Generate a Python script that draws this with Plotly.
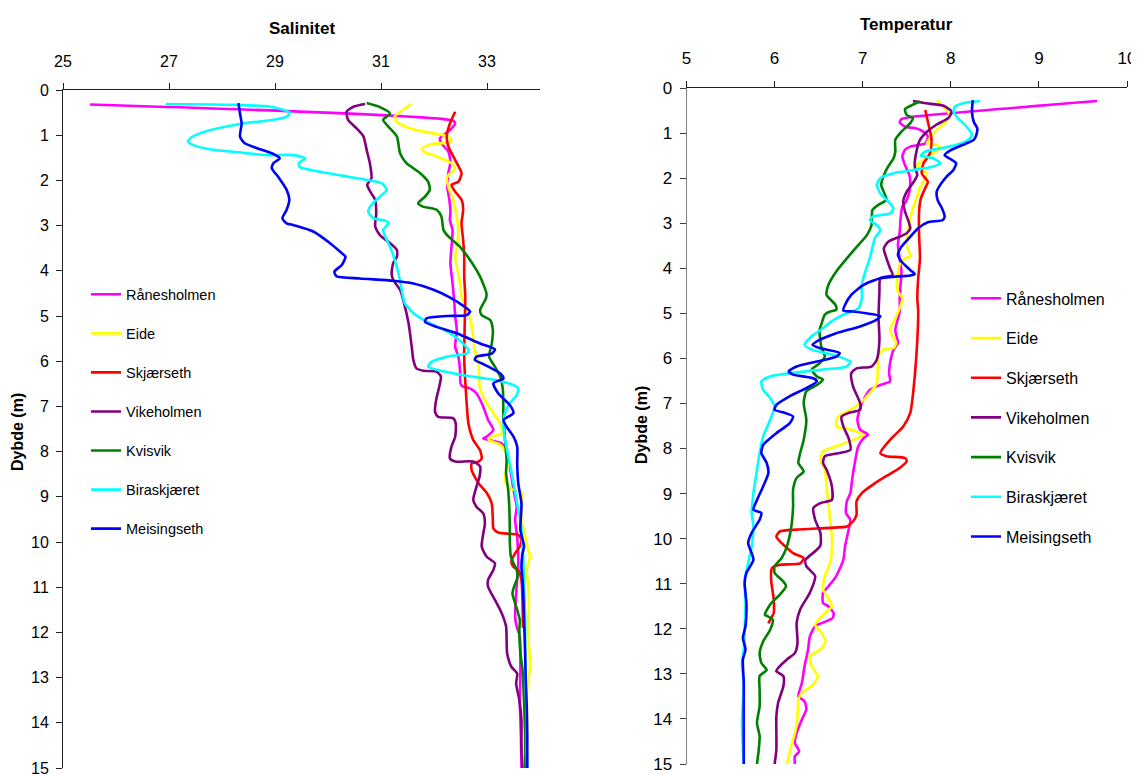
import plotly.graph_objects as go

names = ["Rånesholmen", "Eide", "Skjærseth", "Vikeholmen", "Kvisvik", "Biraskjæret", "Meisingseth"]
colors = ["#FF00FF", "#FFFF00", "#FF0000", "#800080", "#008000", "#00FFFF", "#0000FF"]

# ---------------- Salinitet (left panel) ----------------
sal_ranes_s = [25.51, 32.36, 32.40, 32.30, 32.11, 32.14, 32.27, 32.31, 32.27, 32.25, 32.29, 32.31, 32.30, 32.35, 32.33, 32.31, 32.35, 32.38, 32.40, 32.43, 32.40, 32.46, 32.49, 32.50, 32.54, 32.68, 32.80, 32.93, 33.02, 33.12, 32.99, 32.93, 33.18, 33.28, 33.37, 33.43, 33.50, 33.56, 33.53, 33.57, 33.59, 33.55, 33.53, 33.56, 33.62, 33.63, 33.62, 33.64, 33.65]
sal_ranes_d = [0.32, 0.68, 0.74, 0.885, 1.07, 1.18, 1.36, 1.59, 1.84, 2.14, 2.43, 2.69, 2.88, 3.10, 3.47, 3.83, 4.28, 4.65, 5.01, 5.31, 5.68, 5.90, 6.19, 6.49, 6.56, 6.60, 6.71, 7.01, 7.30, 7.52, 7.67, 7.71, 7.78, 7.82, 8.04, 8.33, 8.85, 9.22, 9.51, 9.90, 10.50, 11.14, 11.65, 11.87, 12.09, 12.83, 13.57, 14.31, 15.0]

sal_eide_s = [31.58, 31.26, 31.29, 31.55, 31.99, 32.27, 32.33, 32.24, 31.99, 31.77, 31.80, 32.05, 32.33, 32.40, 32.30, 32.24, 32.27, 32.36, 32.43, 32.46, 32.43, 32.40, 32.43, 32.49, 32.52, 32.68, 32.73, 32.77, 32.84, 32.86, 32.96, 33.12, 33.25, 33.28, 33.09, 33.03, 33.25, 33.37, 33.40, 33.35, 33.34, 33.46, 33.65, 33.67, 33.65, 33.68, 33.78, 33.81, 33.75, 33.78, 33.79, 33.78, 33.80, 33.81, 33.78, 33.75, 33.76, 33.75, 33.75]
sal_eide_d = [0.31, 0.59, 0.70, 0.85, 0.96, 1.03, 1.11, 1.17, 1.19, 1.29, 1.36, 1.47, 1.62, 1.73, 1.84, 1.95, 2.14, 2.43, 2.80, 3.17, 3.47, 3.69, 3.91, 4.28, 4.57, 5.02, 5.38, 5.75, 6.05, 6.56, 6.86, 7.15, 7.37, 7.60, 7.67, 7.74, 7.85, 8.04, 8.26, 8.48, 8.67, 8.83, 8.89, 9.14, 9.51, 9.66, 10.18, 10.32, 10.62, 10.99, 11.43, 11.95, 12.46, 12.76, 13.05, 13.35, 13.94, 14.53, 15.0]

sal_skj_s = [32.40, 32.30, 32.24, 32.27, 32.40, 32.52, 32.46, 32.33, 32.40, 32.52, 32.55, 32.52, 32.55, 32.57, 32.57, 32.59, 32.58, 32.57, 32.60, 32.65, 32.74, 32.87, 32.90, 32.84, 32.71, 32.71, 32.84, 33.00, 33.09, 33.11, 33.12, 33.21, 33.43, 33.59, 33.65, 33.62, 33.53, 33.46, 33.50, 33.59, 33.65, 33.67, 33.68]
sal_skj_d = [0.48, 0.74, 1.03, 1.25, 1.55, 1.84, 2.03, 2.10, 2.25, 2.43, 2.65, 2.95, 3.32, 3.69, 4.13, 4.57, 5.16, 5.90, 6.64, 7.38, 7.74, 7.97, 8.15, 8.22, 8.26, 8.41, 8.70, 8.92, 9.15, 9.51, 9.70, 9.79, 9.82, 9.84, 9.95, 10.10, 10.25, 10.43, 10.55, 10.62, 10.84, 11.30, 11.90]

sal_vik_s = [30.70, 30.48, 30.35, 30.38, 30.54, 30.67, 30.73, 30.79, 30.82, 30.74, 30.82, 30.89, 30.91, 30.89, 30.98, 31.17, 31.30, 31.30, 31.23, 31.20, 31.23, 31.36, 31.42, 31.52, 31.58, 31.61, 31.67, 31.80, 32.05, 32.13, 32.10, 32.04, 32.02, 32.08, 32.36, 32.41, 32.40, 32.33, 32.30, 32.40, 32.74, 32.87, 32.86, 32.80, 32.74, 32.80, 32.93, 32.96, 32.93, 32.90, 32.99, 33.15, 33.12, 33.02, 33.02, 33.15, 33.28, 33.36, 33.38, 33.46, 33.57, 33.55, 33.61, 33.65, 33.65, 33.67]
sal_vik_d = [0.31, 0.37, 0.48, 0.66, 0.85, 1.03, 1.33, 1.62, 1.95, 2.10, 2.29, 2.43, 2.73, 3.02, 3.21, 3.39, 3.54, 3.69, 3.83, 4.06, 4.20, 4.42, 4.65, 5.16, 5.68, 5.97, 6.16, 6.21, 6.23, 6.34, 6.56, 6.86, 7.12, 7.23, 7.26, 7.38, 7.67, 7.89, 8.15, 8.22, 8.22, 8.33, 8.55, 8.78, 9.07, 9.22, 9.37, 9.60, 9.81, 10.10, 10.32, 10.47, 10.62, 10.84, 10.99, 11.28, 11.58, 11.87, 12.46, 12.76, 12.91, 13.13, 13.50, 13.94, 14.53, 15.0]

sal_kvi_s = [30.73, 30.98, 31.17, 31.04, 31.14, 31.30, 31.36, 31.48, 31.74, 31.89, 31.92, 31.83, 31.70, 31.79, 32.05, 32.14, 32.18, 32.27, 32.49, 32.68, 32.87, 32.99, 32.98, 32.87, 32.90, 33.06, 33.11, 33.09, 33.04, 33.15, 33.25, 33.30, 33.31, 33.34, 33.37, 33.36, 33.40, 33.42, 33.43, 33.43, 33.45, 33.50, 33.56, 33.57, 33.51, 33.48, 33.55, 33.62, 33.61, 33.63, 33.67, 33.70, 33.72, 33.72]
sal_kvi_d = [0.29, 0.38, 0.52, 0.66, 0.81, 1.03, 1.40, 1.62, 1.84, 2.03, 2.21, 2.36, 2.51, 2.58, 2.65, 2.80, 3.10, 3.24, 3.47, 3.76, 4.13, 4.50, 4.61, 4.87, 4.98, 5.09, 5.31, 5.61, 5.90, 6.12, 6.34, 6.64, 7.23, 7.74, 8.19, 8.48, 8.85, 9.22, 9.73, 9.96, 10.32, 10.47, 10.62, 10.80, 10.99, 11.14, 11.43, 11.73, 11.95, 12.46, 12.83, 13.57, 14.31, 15.0]

sal_bir_s = [26.94, 28.28, 28.91, 29.16, 29.28, 29.22, 28.97, 28.40, 27.84, 27.58, 27.40, 27.36, 27.46, 27.77, 28.40, 28.84, 29.35, 29.57, 29.45, 29.47, 29.72, 30.29, 30.73, 31.01, 31.11, 30.98, 30.82, 30.76, 30.86, 31.08, 31.14, 31.04, 31.08, 31.17, 31.26, 31.33, 31.39, 31.43, 31.45, 31.61, 31.92, 32.30, 32.55, 32.65, 32.62, 32.24, 31.96, 31.89, 32.05, 32.55, 33.18, 33.50, 33.59, 33.56, 33.43, 33.34, 33.31, 33.34, 33.43, 33.50, 33.57, 33.62, 33.65, 33.68, 33.70, 33.72, 33.72, 33.73, 33.75, 33.75, 33.76]
sal_bir_d = [0.31, 0.33, 0.37, 0.44, 0.50, 0.59, 0.66, 0.74, 0.87, 0.96, 1.07, 1.14, 1.22, 1.31, 1.39, 1.44, 1.44, 1.51, 1.62, 1.71, 1.78, 1.90, 1.99, 2.06, 2.21, 2.36, 2.54, 2.69, 2.84, 2.89, 2.95, 3.10, 3.24, 3.47, 3.76, 4.06, 4.42, 4.65, 4.72, 4.94, 5.16, 5.38, 5.61, 5.75, 5.83, 5.90, 6.01, 6.12, 6.19, 6.31, 6.42, 6.53, 6.60, 6.75, 6.93, 7.15, 7.38, 7.74, 8.26, 8.70, 9.15, 9.44, 9.73, 10.25, 10.99, 11.73, 12.46, 13.20, 13.94, 14.68, 15.0]

sal_mei_s = [28.31, 28.34, 28.37, 28.34, 28.43, 28.72, 28.94, 29.09, 28.97, 28.94, 29.06, 29.22, 29.27, 29.22, 29.14, 29.22, 29.35, 29.72, 30.04, 30.23, 30.33, 30.26, 30.12, 30.16, 30.60, 31.23, 31.61, 31.99, 32.27, 32.43, 32.68, 32.62, 32.24, 31.86, 31.83, 32.05, 32.43, 32.87, 33.15, 33.09, 32.80, 32.77, 32.96, 33.25, 33.31, 33.12, 33.21, 33.43, 33.50, 33.31, 33.37, 33.50, 33.57, 33.57, 33.59, 33.65, 33.63, 33.70, 33.67, 33.65, 33.68, 33.70, 33.72, 33.73, 33.75, 33.76, 33.76]
sal_mei_d = [0.29, 0.52, 0.74, 1.03, 1.18, 1.31, 1.40, 1.51, 1.62, 1.73, 1.92, 2.21, 2.43, 2.65, 2.84, 2.95, 2.99, 3.13, 3.39, 3.58, 3.69, 3.87, 4.02, 4.12, 4.17, 4.22, 4.28, 4.42, 4.57, 4.68, 4.90, 4.98, 5.00, 5.05, 5.13, 5.24, 5.38, 5.61, 5.74, 5.83, 5.90, 5.97, 6.08, 6.27, 6.38, 6.49, 6.71, 6.97, 7.15, 7.30, 7.45, 7.67, 7.89, 8.26, 8.70, 9.15, 9.73, 10.10, 10.25, 10.55, 10.99, 11.73, 12.46, 13.05, 13.64, 14.31, 15.0]

# ---------------- Temperatur (right panel) ----------------
tmp_ranes_t = [9.66, 7.57, 7.44, 7.42, 7.48, 7.59, 7.69, 7.74, 7.71, 7.65, 7.54, 7.48, 7.45, 7.48, 7.53, 7.54, 7.53, 7.49, 7.45, 7.43, 7.42, 7.40, 7.42, 7.44, 7.43, 7.42, 7.42, 7.37, 7.40, 7.35, 7.31, 7.30, 7.31, 7.20, 7.08, 6.99, 6.94, 6.97, 7.06, 7.01, 6.95, 6.91, 6.88, 6.86, 6.82, 6.81, 6.86, 6.84, 6.80, 6.78, 6.70, 6.61, 6.55, 6.55, 6.61, 6.67, 6.66, 6.59, 6.46, 6.40, 6.38, 6.34, 6.31, 6.27, 6.34, 6.36, 6.31, 6.25, 6.23, 6.28, 6.23, 6.23]
tmp_ranes_d = [0.29, 0.64, 0.69, 0.76, 0.86, 0.89, 0.97, 1.08, 1.23, 1.26, 1.30, 1.37, 1.52, 1.71, 1.93, 2.08, 2.30, 2.52, 2.63, 2.89, 3.19, 3.48, 3.78, 4.07, 4.37, 4.66, 4.96, 5.37, 5.66, 5.81, 6.11, 6.33, 6.51, 6.59, 6.70, 6.99, 7.36, 7.58, 7.69, 7.77, 7.95, 8.32, 8.69, 8.99, 9.17, 9.43, 9.58, 9.80, 10.17, 10.47, 10.83, 11.06, 11.20, 11.43, 11.50, 11.65, 11.76, 11.83, 11.94, 12.17, 12.46, 12.83, 13.20, 13.50, 13.61, 13.79, 14.01, 14.31, 14.53, 14.72, 14.83, 15.0]

tmp_eide_t = [7.84, 7.91, 7.99, 7.93, 7.84, 7.76, 7.73, 7.84, 7.88, 7.80, 7.74, 7.67, 7.61, 7.69, 7.73, 7.69, 7.65, 7.61, 7.57, 7.54, 7.51, 7.50, 7.54, 7.48, 7.42, 7.39, 7.40, 7.45, 7.42, 7.37, 7.31, 7.38, 7.35, 7.23, 7.18, 7.17, 7.16, 7.08, 6.97, 6.86, 6.72, 6.70, 6.86, 7.01, 6.89, 6.70, 6.55, 6.52, 6.57, 6.59, 6.61, 6.63, 6.65, 6.65, 6.63, 6.57, 6.55, 6.61, 6.65, 6.55, 6.46, 6.53, 6.58, 6.52, 6.40, 6.42, 6.49, 6.44, 6.31, 6.27, 6.26, 6.24, 6.19, 6.14]
tmp_eide_d = [0.27, 0.41, 0.60, 0.78, 0.93, 1.12, 1.23, 1.26, 1.34, 1.45, 1.52, 1.63, 1.71, 1.82, 1.89, 2.08, 2.22, 2.45, 2.67, 2.89, 3.19, 3.48, 3.74, 3.78, 3.92, 4.22, 4.52, 4.66, 4.89, 5.11, 5.37, 5.66, 5.77, 5.81, 5.96, 6.25, 6.55, 6.77, 6.99, 7.14, 7.29, 7.51, 7.58, 7.69, 7.81, 7.95, 8.06, 8.25, 8.47, 8.84, 9.21, 9.58, 9.95, 10.24, 10.54, 10.83, 11.13, 11.32, 11.50, 11.69, 11.91, 12.09, 12.28, 12.46, 12.61, 12.83, 13.05, 13.24, 13.42, 13.57, 13.94, 14.24, 14.60, 15.0]

tmp_skj_t = [7.71, 7.74, 7.78, 7.77, 7.73, 7.69, 7.67, 7.71, 7.74, 7.71, 7.66, 7.64, 7.64, 7.65, 7.63, 7.62, 7.63, 7.62, 7.58, 7.54, 7.46, 7.31, 7.20, 7.27, 7.48, 7.50, 7.42, 7.20, 6.99, 6.93, 6.93, 6.89, 6.82, 6.63, 6.25, 6.06, 6.02, 6.06, 6.21, 6.33, 6.29, 6.06, 5.97, 5.96, 5.99, 5.99, 5.95, 5.93]
tmp_skj_d = [0.49, 0.75, 1.12, 1.41, 1.56, 1.67, 1.89, 2.00, 2.08, 2.22, 2.45, 2.74, 3.26, 3.78, 4.22, 4.66, 4.96, 5.59, 6.62, 7.21, 7.51, 7.81, 8.10, 8.17, 8.21, 8.28, 8.43, 8.69, 8.99, 9.17, 9.47, 9.62, 9.73, 9.76, 9.80, 9.84, 9.95, 10.06, 10.32, 10.43, 10.55, 10.58, 10.65, 10.91, 11.35, 11.65, 11.80, 11.88]

tmp_vik_t = [7.57, 7.72, 7.91, 8.01, 7.97, 7.84, 7.73, 7.65, 7.61, 7.59, 7.62, 7.58, 7.50, 7.46, 7.48, 7.52, 7.54, 7.50, 7.42, 7.29, 7.24, 7.27, 7.31, 7.34, 7.20, 7.19, 7.18, 7.19, 7.16, 7.10, 6.93, 6.87, 6.89, 6.97, 6.97, 6.84, 6.76, 6.78, 6.84, 6.86, 6.74, 6.57, 6.55, 6.59, 6.65, 6.65, 6.52, 6.44, 6.46, 6.52, 6.52, 6.46, 6.35, 6.36, 6.46, 6.40, 6.29, 6.25, 6.26, 6.23, 6.14, 6.04, 6.02, 6.10, 6.10, 6.04, 6.02, 6.02, 6.00]
tmp_vik_d = [0.29, 0.34, 0.39, 0.52, 0.67, 0.81, 0.97, 1.15, 1.41, 1.74, 1.93, 2.08, 2.30, 2.52, 2.74, 2.96, 3.11, 3.22, 3.30, 3.41, 3.56, 3.78, 4.00, 4.15, 4.22, 4.52, 5.11, 5.59, 6.03, 6.18, 6.22, 6.33, 6.62, 6.99, 7.14, 7.21, 7.29, 7.51, 7.77, 8.03, 8.10, 8.17, 8.32, 8.47, 8.84, 9.14, 9.21, 9.32, 9.58, 9.87, 10.15, 10.28, 10.47, 10.61, 10.83, 11.20, 11.57, 11.87, 12.31, 12.54, 12.68, 12.87, 12.94, 13.05, 13.27, 13.64, 13.94, 14.68, 15.0]

tmp_kvi_t = [7.65, 7.56, 7.48, 7.50, 7.57, 7.54, 7.44, 7.37, 7.37, 7.35, 7.29, 7.25, 7.21, 7.27, 7.18, 7.11, 7.10, 7.05, 6.97, 6.82, 6.70, 6.61, 6.59, 6.69, 6.70, 6.63, 6.57, 6.53, 6.51, 6.53, 6.57, 6.51, 6.42, 6.48, 6.55, 6.48, 6.36, 6.33, 6.36, 6.33, 6.29, 6.27, 6.33, 6.25, 6.21, 6.21, 6.19, 6.14, 6.08, 6.00, 6.00, 6.10, 6.13, 6.06, 5.95, 5.89, 5.92, 5.98, 5.95, 5.87, 5.83, 5.85, 5.91, 5.83, 5.83, 5.83, 5.80, 5.83, 5.82, 5.80]
tmp_kvi_d = [0.30, 0.38, 0.47, 0.60, 0.67, 0.78, 0.97, 1.15, 1.41, 1.56, 1.74, 1.89, 2.15, 2.48, 2.59, 2.71, 3.04, 3.26, 3.44, 3.78, 4.07, 4.37, 4.59, 4.81, 4.92, 4.96, 5.03, 5.25, 5.37, 5.74, 5.96, 6.11, 6.25, 6.40, 6.47, 6.59, 6.73, 6.99, 7.36, 7.81, 8.10, 8.32, 8.51, 8.65, 8.91, 9.28, 9.73, 10.17, 10.43, 10.61, 10.76, 10.95, 11.06, 11.24, 11.46, 11.69, 11.72, 11.80, 12.02, 12.28, 12.54, 12.76, 12.91, 13.05, 13.35, 13.72, 14.09, 14.38, 14.68, 15.0]

tmp_bir_t = [8.33, 8.14, 8.05, 8.03, 8.08, 8.18, 8.24, 8.20, 8.07, 7.88, 7.71, 7.66, 7.80, 7.88, 7.80, 7.58, 7.35, 7.20, 7.16, 7.20, 7.29, 7.35, 7.31, 7.12, 7.08, 7.16, 7.20, 7.14, 7.08, 7.03, 6.99, 6.99, 6.95, 6.78, 6.63, 6.55, 6.42, 6.34, 6.43, 6.66, 6.86, 6.82, 6.52, 6.17, 5.95, 5.85, 5.87, 5.95, 6.00, 5.95, 5.87, 5.83, 5.80, 5.76, 5.74, 5.76, 5.74, 5.70, 5.66, 5.67, 5.66, 5.65, 5.63, 5.65, 5.63, 5.65]
tmp_bir_d = [0.29, 0.34, 0.41, 0.52, 0.67, 0.86, 1.04, 1.15, 1.26, 1.34, 1.41, 1.50, 1.56, 1.67, 1.74, 1.82, 1.89, 2.00, 2.15, 2.34, 2.52, 2.67, 2.78, 2.85, 2.93, 3.04, 3.15, 3.33, 3.78, 4.07, 4.37, 4.66, 4.89, 5.03, 5.20, 5.33, 5.51, 5.70, 5.81, 5.92, 6.07, 6.18, 6.25, 6.33, 6.40, 6.51, 6.70, 6.88, 7.07, 7.36, 7.73, 8.10, 8.47, 8.99, 9.43, 9.73, 10.17, 10.54, 10.91, 11.43, 12.02, 12.46, 12.76, 13.20, 14.09, 15.0]

tmp_mei_t = [8.25, 8.24, 8.26, 8.30, 8.29, 8.26, 8.14, 8.01, 7.93, 7.99, 8.06, 8.03, 7.95, 7.88, 7.84, 7.85, 7.90, 7.93, 7.91, 7.74, 7.63, 7.54, 7.44, 7.40, 7.44, 7.54, 7.59, 7.54, 7.20, 7.01, 6.87, 6.80, 6.78, 6.89, 7.04, 7.20, 7.16, 6.97, 6.70, 6.51, 6.43, 6.51, 6.74, 6.70, 6.48, 6.25, 6.16, 6.21, 6.44, 6.48, 6.36, 6.17, 6.02, 6.00, 6.12, 6.21, 6.17, 6.02, 5.87, 5.85, 5.91, 5.93, 5.87, 5.80, 5.76, 5.85, 5.83, 5.74, 5.70, 5.74, 5.76, 5.68, 5.66, 5.68, 5.67, 5.64, 5.67, 5.64, 5.65, 5.65, 5.65, 5.65]
tmp_mei_d = [0.27, 0.52, 0.75, 0.89, 1.04, 1.15, 1.26, 1.37, 1.49, 1.57, 1.67, 1.82, 1.97, 2.15, 2.30, 2.48, 2.67, 2.85, 2.93, 2.98, 3.11, 3.30, 3.52, 3.70, 3.85, 4.04, 4.13, 4.16, 4.22, 4.37, 4.59, 4.81, 4.94, 4.96, 5.00, 5.06, 5.14, 5.29, 5.44, 5.59, 5.70, 5.77, 5.88, 5.96, 6.07, 6.18, 6.29, 6.36, 6.44, 6.51, 6.66, 6.84, 7.03, 7.14, 7.21, 7.29, 7.44, 7.66, 7.92, 8.10, 8.32, 8.54, 8.84, 9.14, 9.36, 9.43, 9.58, 9.87, 10.10, 10.32, 10.47, 10.76, 10.98, 11.43, 11.94, 12.20, 12.46, 12.68, 13.20, 13.79, 14.38, 15.0]

sal_x = [sal_ranes_s, sal_eide_s, sal_skj_s, sal_vik_s, sal_kvi_s, sal_bir_s, sal_mei_s]
sal_y = [sal_ranes_d, sal_eide_d, sal_skj_d, sal_vik_d, sal_kvi_d, sal_bir_d, sal_mei_d]
tmp_x = [tmp_ranes_t, tmp_eide_t, tmp_skj_t, tmp_vik_t, tmp_kvi_t, tmp_bir_t, tmp_mei_t]
tmp_y = [tmp_ranes_d, tmp_eide_d, tmp_skj_d, tmp_vik_d, tmp_kvi_d, tmp_bir_d, tmp_mei_d]

# The page body has an 8px default margin; the figure is sized to fit the window exactly.
OFF = 8
W, H = 1139 - OFF, 774 - OFF
FONT = "Liberation Sans, Arial, sans-serif"

fig = go.Figure()
for i, n in enumerate(names):
    fig.add_trace(go.Scatter(
        x=sal_x[i], y=sal_y[i], mode="lines", name=n,
        line=dict(color=colors[i], width=2.6, shape="spline", smoothing=0.6),
        xaxis="x", yaxis="y", legend="legend", legendgroup="L%d" % i,
        hoverinfo="skip"))
for i, n in enumerate(names):
    fig.add_trace(go.Scatter(
        x=tmp_x[i], y=tmp_y[i], mode="lines", name=n,
        line=dict(color=colors[i], width=2.6, shape="spline", smoothing=0.6),
        xaxis="x2", yaxis="y2", legend="legend2", legendgroup="R%d" % i,
        hoverinfo="skip"))

def px_x(p):
    return (p - OFF) / W

def px_y(p):
    return 1 - (p - OFF) / H

axis_common = dict(showgrid=False, zeroline=False, showline=True, ticks="outside",
                   ticklen=6, tickwidth=1, ticklabeloverflow="allow")

fig.update_layout(
    width=W, height=H,
    margin=dict(l=0, r=0, t=0, b=0, autoexpand=False),
    paper_bgcolor="white", plot_bgcolor="white",
    font=dict(family=FONT, color="black"),
    xaxis=dict(domain=[px_x(63), px_x(540)], range=[25, 34], side="top",
               tick0=25, dtick=2, anchor="y", linecolor="#202020", tickcolor="#202020",
               tickfont=dict(size=16), ticklabelstandoff=10, **axis_common),
    yaxis=dict(domain=[px_y(768), px_y(90)], range=[15, 0], dtick=1, anchor="x",
               linecolor="#202020", tickcolor="#202020",
               tickfont=dict(size=16), ticklabelstandoff=4, **axis_common),
    xaxis2=dict(domain=[px_x(686.5), px_x(1127)], range=[5, 10], side="top",
                tick0=5, dtick=1, anchor="y2", linecolor="#202020", tickcolor="#202020",
                tickfont=dict(size=17), ticklabelstandoff=10, **axis_common),
    yaxis2=dict(domain=[px_y(764), px_y(88)], range=[15, 0], dtick=1, anchor="x2",
                linecolor="#808080", tickcolor="#404040",
                tickfont=dict(size=17), ticklabelstandoff=4, **axis_common),
    legend=dict(x=px_x(86), y=px_y(278.4), xanchor="left", yanchor="top",
                bgcolor="rgba(0,0,0,0)", font=dict(size=14.5, family=FONT),
                tracegroupgap=17.2, itemwidth=30, traceorder="grouped"),
    legend2=dict(x=px_x(966), y=px_y(281.4), xanchor="left", yanchor="top",
                 bgcolor="rgba(0,0,0,0)", font=dict(size=16, family=FONT),
                 tracegroupgap=15.9, itemwidth=30, traceorder="grouped"),
    annotations=[
        dict(text="<b>Salinitet</b>", x=px_x(301.5), y=px_y(28), xref="paper", yref="paper",
             showarrow=False, xanchor="center", yanchor="middle", font=dict(size=17)),
        dict(text="<b>Temperatur</b>", x=px_x(906.7), y=px_y(25), xref="paper", yref="paper",
             showarrow=False, xanchor="center", yanchor="middle", font=dict(size=17)),
        dict(text="<b>Dybde (m)</b>", x=px_x(17), y=px_y(432), xref="paper", yref="paper",
             showarrow=False, xanchor="center", yanchor="middle", textangle=-90, font=dict(size=16)),
        dict(text="<b>Dybde (m)</b>", x=px_x(641), y=px_y(425), xref="paper", yref="paper",
             showarrow=False, xanchor="center", yanchor="middle", textangle=-90, font=dict(size=16)),
    ],
    showlegend=True,
)

fig.write_html("out.html")
